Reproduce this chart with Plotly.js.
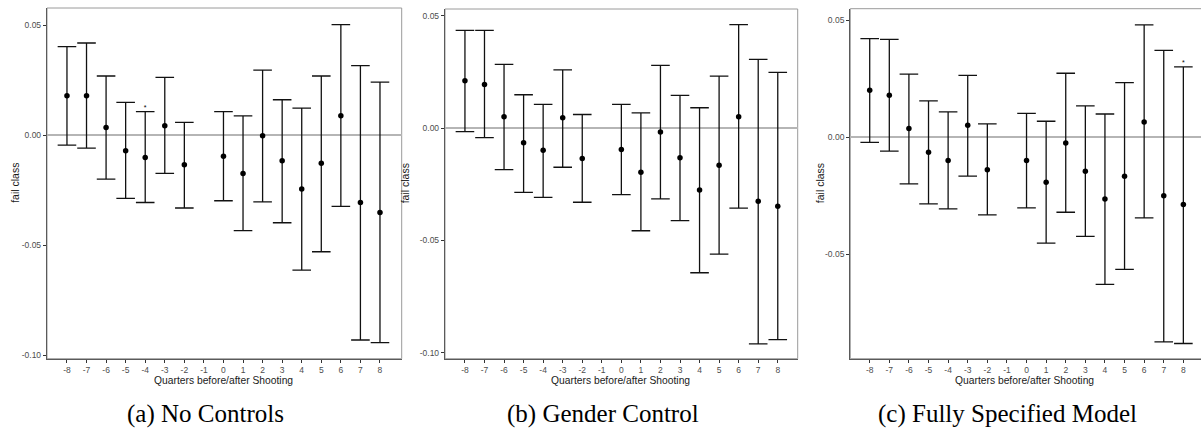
<!DOCTYPE html>
<html>
<head>
<meta charset="utf-8">
<script src="https://cdn.plot.ly/plotly-3.0.1.min.js"></script>
<style>html,body{margin:0;padding:0;background:#fff;}#chart{width:1201px;height:430px;}</style>
</head>
<body>
<div id="chart"></div>
<script>
// ---- data ----
const quarters = [-8, -7, -6, -5, -4, -3, -2, 0, 1, 2, 3, 4, 5, 6, 7, 8];
const tickVals = [-8, -7, -6, -5, -4, -3, -2, -1, 0, 1, 2, 3, 4, 5, 6, 7, 8];
const tickText = ['-8', '-7', '-6', '-5', '-4', '-3', '-2', '-1', '0', '1', '2', '3', '4', '5', '6', '7', '8'];
const yTickVals = [0.05, 0.00, -0.05, -0.10];
const yTickText = ['0.05', '0.00', '-0.05', '-0.10'];

// (a) No Controls
const aEst = [0.0180, 0.0180, 0.0036, -0.0070, -0.0100, 0.0044, -0.0133, -0.0095, -0.0173, -0.0002, -0.0115, -0.0244, -0.0127, 0.0089, -0.0305, -0.0350];
const aLow = [-0.0044, -0.0058, -0.0199, -0.0286, -0.0305, -0.0173, -0.0330, -0.0297, -0.0433, -0.0302, -0.0397, -0.0612, -0.0529, -0.0323, -0.0930, -0.0942];
const aHigh = [0.0403, 0.0420, 0.0270, 0.0150, 0.0108, 0.0264, 0.0059, 0.0108, 0.0089, 0.0297, 0.0162, 0.0124, 0.0270, 0.0503, 0.0317, 0.0242];
const aStars = ['', '', '', '', '*', '', '', '', '', '', '', '', '', '', '', ''];

// (b) Gender Control
const bEst = [0.0211, 0.0195, 0.0051, -0.0065, -0.0098, 0.0046, -0.0135, -0.0095, -0.0196, -0.0017, -0.0132, -0.0275, -0.0165, 0.0051, -0.0326, -0.0348];
const bLow = [-0.0015, -0.0042, -0.0185, -0.0286, -0.0308, -0.0174, -0.0330, -0.0296, -0.0457, -0.0315, -0.0412, -0.0644, -0.0561, -0.0356, -0.0961, -0.0942];
const bHigh = [0.0436, 0.0436, 0.0284, 0.0149, 0.0106, 0.0260, 0.0061, 0.0106, 0.0068, 0.0280, 0.0146, 0.0091, 0.0232, 0.0461, 0.0307, 0.0249];
const bStars = ['', '', '', '', '', '', '', '', '', '', '', '', '', '', '', ''];

// (c) Fully Specified Model
const cEst = [0.0201, 0.0180, 0.0038, -0.0064, -0.0099, 0.0052, -0.0138, -0.0099, -0.0192, -0.0024, -0.0145, -0.0263, -0.0166, 0.0066, -0.0249, -0.0287];
const cLow = [-0.0021, -0.0059, -0.0199, -0.0284, -0.0306, -0.0166, -0.0331, -0.0301, -0.0452, -0.0320, -0.0423, -0.0628, -0.0564, -0.0344, -0.0874, -0.0881];
const cHigh = [0.0422, 0.0419, 0.0270, 0.0156, 0.0109, 0.0265, 0.0058, 0.0103, 0.0069, 0.0274, 0.0135, 0.0100, 0.0234, 0.0481, 0.0372, 0.0301];
const cStars = ['', '', '', '', '', '', '', '', '', '', '', '', '', '', '', '*'];

const captions = ['(a) No Controls', '(b) Gender Control', '(c) Fully Specified Model'];
const yTitle = 'fail class';
const xTitle = 'Quarters before/after Shooting';

// ---- layout geometry ----
const W = 1201, H = 430;
const panels = [
  {est: aEst, lo: aLow, hi: aHigh, stars: aStars, x0: 47, x1: 401.7, top: 8, bottom: 358.7, xr: [-9.02, 9.11], yr: [-0.1015, 0.0579], ytx: 15.5, cap: 205.5},
  {est: bEst, lo: bLow, hi: bHigh, stars: bStars, x0: 445, x1: 797.7, top: 9, bottom: 358.7, xr: [-9.02, 9.02], yr: [-0.1027, 0.0531], ytx: 404.5, cap: 603},
  {est: cEst, lo: cLow, hi: cHigh, stars: cStars, x0: 850.3, x1: 1201, top: 8.7, bottom: 358.7, xr: [-8.99, 8.9], yr: [-0.0946, 0.055], ytx: 819.5, cap: 1007.5}
];

const tickFont = {family: 'Liberation Sans, Arial, sans-serif', size: 8.5, color: '#4d4d4d'};
const traces = [];
const layout = {
  width: W, height: H,
  margin: {l: 0, r: 0, t: 0, b: 0},
  paper_bgcolor: '#ffffff', plot_bgcolor: '#ffffff',
  showlegend: false, hovermode: false,
  annotations: [], shapes: []
};

panels.forEach((p, i) => {
  const sfx = i === 0 ? '' : String(i + 1);
  const xa = 'x' + sfx, ya = 'y' + sfx;
  traces.push({
    type: 'scatter', mode: 'markers', x: quarters, y: p.est,
    xaxis: xa, yaxis: ya,
    marker: {color: '#000', size: 5.5},
    error_y: {
      type: 'data', symmetric: false,
      array: p.hi.map((h, k) => h - p.est[k]),
      arrayminus: p.lo.map((l, k) => p.est[k] - l),
      color: '#111', thickness: 1.3, width: 9.3
    },
    cliponaxis: false
  });
  traces.push({
    type: 'scatter', mode: 'text', x: quarters, y: p.hi, text: p.stars,
    textposition: 'top center',
    textfont: {family: 'Liberation Sans, Arial, sans-serif', size: 7, color: '#000'},
    xaxis: xa, yaxis: ya, cliponaxis: false
  });
  layout['xaxis' + sfx] = {
    domain: [p.x0 / W, p.x1 / W], range: p.xr, anchor: ya,
    tickmode: 'array', tickvals: tickVals, ticktext: tickText,
    ticks: 'outside', ticklen: 3, tickwidth: 1, tickcolor: '#333',
    tickfont: tickFont, showgrid: false, zeroline: false,
    showline: true, linecolor: '#5a5a5a', linewidth: 1.2
  };
  layout['yaxis' + sfx] = {
    domain: [(H - p.bottom) / H, (H - p.top) / H], range: p.yr, anchor: xa,
    tickmode: 'array', tickvals: yTickVals, ticktext: yTickText,
    ticks: 'outside', ticklen: 3, tickwidth: 1, tickcolor: '#333',
    tickfont: tickFont, showgrid: false,
    zeroline: true, zerolinecolor: '#b5b5b5', zerolinewidth: 2,
    showline: true, linecolor: '#5a5a5a', linewidth: 1.2
  };
  // frame
  layout.shapes.push({
    type: 'rect', xref: 'paper', yref: 'paper',
    x0: p.x0 / W, x1: (i === 2 ? 1.01 : p.x1 / W),
    y0: (H - p.bottom) / H, y1: (H - p.top) / H,
    line: {color: '#9a9a9a', width: 1}, fillcolor: 'rgba(0,0,0,0)', layer: 'below'
  });
  // y title
  layout.annotations.push({
    xref: 'paper', yref: 'paper', x: p.ytx / W, y: (H - (p.top + p.bottom) / 2) / H,
    text: yTitle, textangle: -90, showarrow: false, xanchor: 'center', yanchor: 'middle',
    font: {family: 'Liberation Sans, Arial, sans-serif', size: 10.5, color: '#1a1a1a'}
  });
  // x title
  layout.annotations.push({
    xref: 'paper', yref: 'paper', x: ((p.x0 + p.x1) / 2 - 1) / W, y: (H - 380) / H,
    text: xTitle, showarrow: false, xanchor: 'center', yanchor: 'middle',
    font: {family: 'Liberation Sans, Arial, sans-serif', size: 10.3, color: '#1a1a1a'}
  });
  // caption
  layout.annotations.push({
    xref: 'paper', yref: 'paper', x: p.cap / W, y: (H - 414) / H,
    text: captions[i], showarrow: false, xanchor: 'center', yanchor: 'middle',
    font: {family: 'Liberation Serif, Times New Roman, serif', size: 25, color: '#000'}
  });
});

Plotly.newPlot('chart', traces, layout, {staticPlot: true, displayModeBar: false});
</script>
</body>
</html>
